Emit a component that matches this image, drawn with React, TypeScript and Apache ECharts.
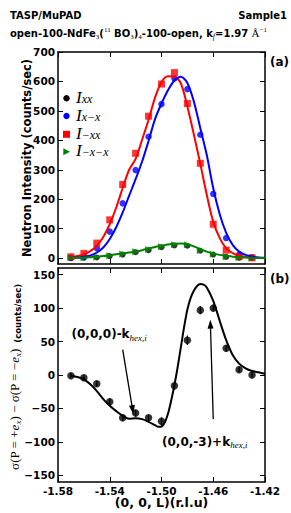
import React, { useEffect, useRef } from 'react';
import * as echarts from 'echarts';

// ---------- data ----------
const L = [-1.57, -1.56, -1.55, -1.54, -1.53, -1.52, -1.51, -1.50, -1.49, -1.48, -1.47, -1.46, -1.45, -1.44, -1.43];
const I_XX = [0, 1, 2, 7, 12, 20, 27, 37, 43, 42, 25, 12, 4, 1, 0];
const I_XMX = [1, 4, 34, 90, 186, 299, 412, 523, 610, 574, 419, 218, 68, 12, 3];
const I_MXX = [4.5, 16, 51, 130, 250, 356, 482, 591, 630, 525, 322, 115, 27, 5, 1];
const I_MXMX = [1, 1, 3, 8, 14, 22, 29, 39, 45, 45, 26, 13, 5, 2, 0];

const FIT_L = [-1.570, -1.565, -1.560, -1.555, -1.550, -1.545, -1.540, -1.535, -1.530, -1.525, -1.520, -1.515, -1.510, -1.505, -1.500, -1.495, -1.490, -1.485, -1.480, -1.475, -1.470, -1.465, -1.460, -1.455, -1.450, -1.445, -1.440, -1.435, -1.430, -1.425, -1.420];
const FIT_RED = [4, 7, 13, 24, 42, 72, 115, 172, 238, 300, 337, 402, 470, 545, 598, 618, 616, 593, 515, 420, 320, 215, 123, 68, 33, 17, 8, 4, 2, 1, 0];
const FIT_BLUE = [1, 2, 4, 9, 19, 36, 65, 105, 155, 212, 268, 328, 398, 472, 525, 570, 603, 616, 595, 532, 441, 350, 237, 149, 86, 45, 22, 11, 5, 2, 1];
const FIT_GREEN = [0, 1, 2, 3, 5, 7, 10, 13, 16, 19, 22, 27, 33, 38, 42, 46, 49, 50, 47, 40, 31, 22, 16, 11, 8, 5, 3, 2, 1, 0, 0];

const DIFF = [-1, -4, -13, -40, -64, -57, -64, -69, -16, 52, 97, 100, 40, 8, 0];
const DIFF_ERR = [4, 4, 4, 5, 5, 5, 5, 5, 6, 7, 6, 5, 5, 4, 4];
const FIT_B_L = [-1.570, -1.565, -1.560, -1.555, -1.550, -1.545, -1.540, -1.535, -1.530, -1.525, -1.520, -1.515, -1.510, -1.505, -1.5025, -1.500, -1.4975, -1.495, -1.4925, -1.490, -1.4875, -1.485, -1.4825, -1.480, -1.4775, -1.475, -1.4725, -1.470, -1.4675, -1.465, -1.460, -1.455, -1.450, -1.445, -1.440, -1.435, -1.430, -1.425, -1.420];
const FIT_B = [-1, -3, -6.5, -14, -24, -36, -46, -54, -61, -65.5, -64.5, -66, -70, -75, -77.5, -77, -71, -58, -38, -15, 12, 42, 72, 98, 115, 126, 133, 136, 135, 131, 111, 81, 52, 30, 17, 10, 6, 4, 2];

const X_TICKS = [-1.58, -1.54, -1.50, -1.46, -1.42];
const Y_TICKS_TOP = [0, 100, 200, 300, 400, 500, 600, 700];
const Y_TICKS_BOT = [-150, -100, -50, 0, 50, 100, 150];

const ARROW_1 = [[-1.530, 38], [-1.5223, -52]];
const ARROW_2 = [[-1.460, -66], [-1.4622, 76]];

// ---------- styles ----------
const SANS = 'DejaVu Sans';
const SERIF = 'Liberation Serif';

const pairs = (xs: number[], ys: number[]) => xs.map((x, i) => [x, ys[i]]);

function xAxis(gridIndex: number, position: 'top' | 'bottom', labels: boolean) {
  return {
    type: 'value', gridIndex, position, min: -1.58, max: -1.42,
    axisLine: { show: true, onZero: false, lineStyle: { color: '#000', width: 1.5 } },
    axisTick: { show: true, inside: true, length: 5, lineStyle: { color: '#000', width: 1 }, customValues: X_TICKS },
    axisLabel: {
      show: labels, customValues: X_TICKS, margin: 3, color: '#000',
      fontFamily: SANS, fontWeight: 'bold', fontSize: 10.5,
      formatter: (v: number) => v.toFixed(2),
    },
    splitLine: { show: false },
  };
}

function yAxis(gridIndex: number, position: 'left' | 'right', labels: boolean, min: number, max: number, ticks: number[]) {
  return {
    type: 'value', gridIndex, position, min, max,
    axisLine: { show: true, onZero: false, lineStyle: { color: '#000', width: 1.5 } },
    axisTick: { show: true, inside: true, length: 5, lineStyle: { color: '#000', width: 1 }, customValues: ticks },
    axisLabel: {
      show: labels, customValues: ticks, margin: 3, color: '#000',
      fontFamily: SANS, fontWeight: 'bold', fontSize: 10.5,
      formatter: (v: number) => String(v).replace('-', '\u2212'),
    },
    splitLine: { show: false },
  };
}

const legendRich = {
  i: { fontFamily: SERIF, fontStyle: 'italic', fontSize: 17, lineHeight: 15, verticalAlign: 'middle', fill: '#000' },
  s: { fontFamily: SERIF, fontStyle: 'italic', fontSize: 12, lineHeight: 8, verticalAlign: 'bottom', fill: '#000' },
};

function legendItem(y: number, marker: any, sub: string) {
  return [
    { ...marker, z: 100 },
    {
      type: 'text', x: 76, y: y - 1, z: 100,
      style: { text: `{i|I}{s|${sub}}`, rich: legendRich, verticalAlign: 'middle', align: 'left' },
    },
  ];
}

const boldTxt = (size: number) => ({ fontFamily: SANS, fontWeight: 'bold', fontSize: size, fill: '#000' });

function buildOption() {
  const legendEls = [
    ...legendItem(98.3, { type: 'circle', shape: { cx: 66.5, cy: 98.3, r: 3.2 }, style: { fill: '#000' } }, 'xx'),
    ...legendItem(116, { type: 'circle', shape: { cx: 66.5, cy: 116, r: 3.2 }, style: { fill: '#0000ff' } }, 'x\u2212x'),
    ...legendItem(134.3, { type: 'rect', shape: { x: 63, y: 130.8, width: 7, height: 7 }, style: { fill: '#ff0000' } }, '\u2212xx'),
    ...legendItem(151.7, { type: 'polygon', shape: { points: [[63.3, 148.2], [70, 151.7], [63.3, 155.2]] }, style: { fill: '#008000' } }, '\u2212x\u2212x'),
  ];

  const titleRich = {
    b: { ...boldTxt(10), lineHeight: 14, verticalAlign: 'middle' },
    sub: { fontFamily: SERIF, fontSize: 7, fill: '#000', lineHeight: 8, verticalAlign: 'bottom' },
    sup: { fontFamily: SERIF, fontSize: 7, fill: '#000', lineHeight: 8, verticalAlign: 'top' },
    subi: { fontFamily: SERIF, fontStyle: 'italic', fontSize: 8, fill: '#000', lineHeight: 8, verticalAlign: 'bottom' },
    r: { fontFamily: SERIF, fontSize: 11, fill: '#000', lineHeight: 14, verticalAlign: 'middle' },
  };

  const annRich = {
    b: { ...boldTxt(12), lineHeight: 16, verticalAlign: 'middle' },
    s: { fontFamily: SERIF, fontStyle: 'italic', fontSize: 9, fill: '#000', lineHeight: 9, verticalAlign: 'bottom' },
  };

  const ylabRich = {
    m: { fontFamily: SERIF, fontSize: 13, fill: '#000', lineHeight: 16, verticalAlign: 'middle' },
    mi: { fontFamily: SERIF, fontStyle: 'italic', fontSize: 13, fill: '#000', lineHeight: 16, verticalAlign: 'middle' },
    ms: { fontFamily: SERIF, fontStyle: 'italic', fontSize: 9, fill: '#000', lineHeight: 9, verticalAlign: 'bottom' },
    b: { ...boldTxt(8.5), lineHeight: 11, verticalAlign: 'bottom' },
  };

  return {
    animation: false,
    backgroundColor: '#fff',
    grid: [
      { left: 58, top: 52, width: 207, height: 212 },
      { left: 58, top: 268, width: 207, height: 214 },
    ],
    xAxis: [
      xAxis(0, 'bottom', false),
      xAxis(0, 'top', false),
      xAxis(1, 'bottom', true),
      xAxis(1, 'top', false),
    ],
    yAxis: [
      yAxis(0, 'left', true, -20, 700, Y_TICKS_TOP),
      yAxis(0, 'right', false, -20, 700, Y_TICKS_TOP),
      yAxis(1, 'left', true, -160, 160, Y_TICKS_BOT),
      yAxis(1, 'right', false, -160, 160, Y_TICKS_BOT),
    ],
    series: [
      { type: 'scatter', name: 'Ixx', xAxisIndex: 0, yAxisIndex: 0, symbol: 'circle', symbolSize: 6, itemStyle: { color: '#000' }, data: pairs(L, I_XX), z: 2 },
      { type: 'scatter', name: 'Ix-x', xAxisIndex: 0, yAxisIndex: 0, symbol: 'circle', symbolSize: 6.5, itemStyle: { color: '#0000ff' }, data: pairs(L, I_XMX), z: 2 },
      { type: 'scatter', name: 'I-xx', xAxisIndex: 0, yAxisIndex: 0, symbol: 'rect', symbolSize: 7, itemStyle: { color: '#ff0000' }, data: pairs(L, I_MXX), z: 2 },
      { type: 'scatter', name: 'I-x-x', xAxisIndex: 0, yAxisIndex: 0, symbol: 'triangle', symbolRotate: -90, symbolSize: 7, itemStyle: { color: '#008000' }, data: pairs(L, I_MXMX), z: 2 },
      { type: 'line', xAxisIndex: 0, yAxisIndex: 0, showSymbol: false, symbol: 'none', smooth: 0.3, lineStyle: { color: '#ff0000', width: 2 }, data: pairs(FIT_L, FIT_RED), z: 3 },
      { type: 'line', xAxisIndex: 0, yAxisIndex: 0, showSymbol: false, symbol: 'none', smooth: 0.3, lineStyle: { color: '#0000ff', width: 2 }, data: pairs(FIT_L, FIT_BLUE), z: 3 },
      { type: 'line', xAxisIndex: 0, yAxisIndex: 0, showSymbol: false, symbol: 'none', smooth: 0.3, lineStyle: { color: '#008000', width: 2 }, data: pairs(FIT_L, FIT_GREEN), z: 3 },
      {
        type: 'custom', xAxisIndex: 2, yAxisIndex: 2, z: 2,
        data: L.map((x, i) => [x, DIFF[i] - DIFF_ERR[i], DIFF[i] + DIFF_ERR[i]]),
        encode: { x: 0, y: [1, 2] },
        renderItem: (params: any, api: any) => {
          const lo = api.coord([api.value(0), api.value(1)]);
          const hi = api.coord([api.value(0), api.value(2)]);
          return { type: 'line', shape: { x1: lo[0], y1: lo[1], x2: hi[0], y2: hi[1] }, style: { stroke: '#000', lineWidth: 1.3 } };
        },
      },
      { type: 'scatter', xAxisIndex: 2, yAxisIndex: 2, symbol: 'circle', symbolSize: 7.5, itemStyle: { color: '#000' }, data: pairs(L, DIFF), z: 3 },
      {
        type: 'line', xAxisIndex: 2, yAxisIndex: 2, showSymbol: false, symbol: 'none', smooth: 0.3,
        lineStyle: { color: '#000', width: 2 }, data: pairs(FIT_B_L, FIT_B), z: 4,
        markLine: {
          silent: true, symbol: ['none', 'triangle'], symbolSize: [6, 9], symbolOffset: [0, 0],
          lineStyle: { color: '#000', width: 1.3, type: 'solid' },
          itemStyle: { color: '#000' },
          label: { show: false },
          emphasis: { disabled: true },
          data: [
            [{ coord: ARROW_1[0] }, { coord: ARROW_1[1] }],
            [{ coord: ARROW_2[0] }, { coord: ARROW_2[1] }],
          ],
        },
      },
    ],
    graphic: [
      { type: 'text', x: 10, y: 15, style: { text: 'TASP/MuPAD', ...boldTxt(10), verticalAlign: 'middle' } },
      { type: 'text', x: 287, y: 15, style: { text: 'Sample1', ...boldTxt(10), align: 'right', verticalAlign: 'middle' } },
      {
        type: 'text', x: 10, y: 33,
        style: {
          text: '{b|open-100-NdFe}{sub|3}{b|(}{sup|11}{b| BO}{sub|3}{b|)}{sub|4}{b|-100-open, k}{subi|f}{b|=1.97 }{r|Å}{sup|\u22121}',
          rich: titleRich, verticalAlign: 'middle',
        },
      },
      { type: 'text', x: 270, y: 62, style: { text: '(a)', ...boldTxt(12), verticalAlign: 'middle' } },
      { type: 'text', x: 270, y: 279, style: { text: '(b)', ...boldTxt(12), verticalAlign: 'middle' } },
      {
        type: 'text', x: 27, y: 158, rotation: Math.PI / 2,
        style: { text: 'Neutron Intensity (counts/sec)', ...boldTxt(11.5), align: 'center', verticalAlign: 'middle' },
      },
      {
        type: 'text', x: 14, y: 377, rotation: Math.PI / 2,
        style: {
          text: '{m|\u03c3(P = +}{mi|e}{ms|x}{m|) \u2212 \u03c3(P = \u2212}{mi|e}{ms|x}{m|)}{b|  (counts/sec)}',
          rich: ylabRich, align: 'center', verticalAlign: 'middle',
        },
      },
      {
        type: 'text', x: 161.5, y: 502.5,
        style: { text: '(0, 0, L)(r.l.u)', ...boldTxt(12.5), align: 'center', verticalAlign: 'middle' },
      },
      {
        type: 'text', x: 71.5, y: 334,
        style: { text: '{b|(0,0,0)-k}{s|hex,i}', rich: annRich, verticalAlign: 'middle' },
      },
      {
        type: 'text', x: 162, y: 441.5,
        style: { text: '{b|(0,0,-3)+k}{s|hex,i}', rich: annRich, verticalAlign: 'middle' },
      },
      ...legendEls,
    ],
  };
}

export default function App() {
  const ref = useRef<HTMLDivElement>(null);
  useEffect(() => {
    if (!ref.current) return;
    const chart = echarts.init(ref.current, null, { renderer: 'svg' });
    chart.setOption(buildOption() as any);
    return () => chart.dispose();
  }, []);
  return <div ref={ref} style={{ position: 'fixed', left: 0, top: 0, width: 291, height: 513, background: '#fff' }} />;
}
